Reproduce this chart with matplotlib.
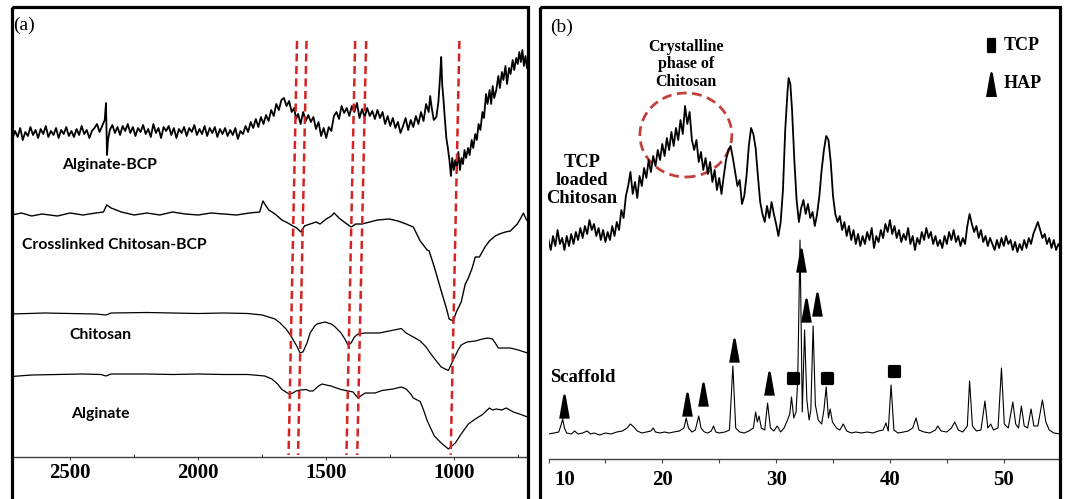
import numpy as np
import matplotlib
matplotlib.use("Agg")
import matplotlib.pyplot as plt
import matplotlib.transforms as mtransforms
from matplotlib.patches import Rectangle, Ellipse

W, H = 1066, 499

# ---------------- Panel (a): FTIR (wavenumber, offset reading) ----------------
alg_bcp_wn = [2725,2715,2705,2695,2685,2675,2665,2655,2645,2635,2625,2615,2605,2595,2585,2575,2565,2555,2545,2535,2525,
              2515,2505,2495,2485,2475,2465,2455,2445,2435,2425,2415,2405,2395,2385,2375,2365,2360,2356,2352,2345,2335,
              2325,2315,2305,2295,2285,2275,2265,2255,2245,2235,2225,2215,2205,2195,2185,2175,2165,2155,2145,2135,2125,
              2115,2105,2095,2085,2075,2065,2055,2045,2035,2025,2015,2005,1995,1985,1975,1965,1955,1945,1935,1925,1915,
              1905,1895,1885,1875,1865,1855,1845,1835,1825,1815,1805,1795,1785,1775,1765,1755,1745,1735,1725,1715,1705,
              1695,1685,1675,1665,1655,1645,1635,1625,1618,1610,1600,1590,1580,1570,1560,1550,1540,1530,1520,1510,1500,
              1490,1480,1470,1460,1450,1440,1430,1420,1410,1400,1390,1380,1370,1360,1350,1340,1330,1320,1310,1300,1290,
              1280,1270,1260,1250,1240,1230,1220,1210,1200,1190,1180,1170,1160,1150,1140,1130,1120,1110,1100,1094,1088,
              1080,1070,1062,1055,1051,1047,1042,1037,1031,1025,1019,1013,1008,1002,996,990,984,978,972,966,960,954,946,
              940,932,926,918,912,905,898,890,884,876,870,862,856,850,844,836,828,822,814,808,800,794,786,780,772,766,
              758,752,746,740,734,728,722,716]
alg_bcp_v = [139,131,137,128,140,132,136,127,135,130,138,129,134,126,137,131,135,128,138,130,134,
             127,136,131,137,129,135,126,134,130,138,131,128,124,132,126,120,103,155,140,130,125,
             133,127,135,126,131,124,133,127,136,128,132,125,134,129,137,124,133,128,138,127,131,
             126,135,128,138,129,133,127,136,128,132,125,135,129,134,126,136,128,133,127,137,129,
             134,128,136,130,135,128,139,131,134,126,132,122,128,119,127,117,124,115,121,110,116,
             104,110,100,98,106,101,112,108,119,114,124,112,121,115,122,117,129,122,136,128,138,
             127,131,116,112,119,106,113,108,116,106,112,103,118,109,117,108,116,111,119,110,118,
             112,124,116,126,118,128,122,133,126,118,130,120,127,116,124,112,121,104,112,96,108,
             120,117,102,75,57,85,100,118,138,148,160,176,158,170,160,168,152,170,158,164,150,158,148,
             155,140,148,134,140,124,130,112,118,94,104,90,104,86,98,90,76,88,72,80,66,84,68,74,60,70,
             58,64,52,62,50,66,56,68]

cs_bcp_wn = [2729,2690,2650,2610,2550,2500,2450,2400,2370,2357,2340,2320,2300,2250,2200,2150,2100,2050,2000,1950,1900,1850,
             1800,1760,1747,1735,1724,1700,1673,1650,1630,1615,1599,1585,1563,1540,1524,1500,1480,1469,1450,1430,1403,1385,
             1360,1330,1300,1254,1220,1188,1160,1133,1106,1098,1078,1051,1031,1020,1004,992,973,957,945,930,918,902,880,863,
             840,824,800,781,754,740,730,718]
cs_bcp_v = [215,213,216,214,216,213,215,213,212,205,208,210,212,215,213,215,212,214,215,213,214,215,
            213,212,201,206,210,214,220,223,226,228,232,226,224,222,224,219,216,213,218,222,227,224,
            224,222,220,219,221,224,227,241,250,251,267,291,308,319,321,312,302,284,278,268,257,257,247,241,
            236,234,232,231,224,218,213,220]

chi_wn = [2729,2600,2500,2400,2360,2340,2200,2100,2000,1900,1806,1750,1700,1680,1657,1640,1630,1615,1602,1591,1575,1563,
          1545,1536,1505,1480,1469,1442,1425,1415,1403,1390,1376,1348,1293,1254,1207,1188,1160,1133,1110,1094,1070,1051,
          1023,1004,985,973,950,918,890,870,851,840,828,808,781,750,714]
chi_v = [314,313,313.5,314,315,313,312.5,313,313.5,313,313.5,315,319,323,329,335,339.5,346,353,352,343,333,
         326,324,322,324,326,333,340,345,343,337,334,333,333,331,328.5,333,337,341,347,353,361,367,
         370.5,360,350,345,342,341,339,338,339,343,348,348,348,350,353]

alg_wn = [2729,2650,2550,2450,2380,2360,2340,2200,2100,2000,1900,1806,1740,1712,1690,1673,1645,1630,1618,1600,1579,1565,
          1552,1530,1516,1500,1481,1460,1442,1415,1395,1387,1376,1360,1348,1309,1282,1239,1207,1188,1170,1160,1133,1120,
          1106,1078,1051,1023,996,973,945,918,890,863,850,836,815,797,769,740,714]
alg_v = [376.5,375,374.5,374,374.5,376,374,374,374.5,374,374.5,374.5,376,379,384,389.5,394,393,391,390,389.5,391,
         391,386,384,385,386,388,389.5,391,392,394.6,398,395,393,393,390.5,389,387,389,394,398,401.5,410,
         420.5,436,443,449,443,434,424,419,414.6,408,410,409,410,408,412,414.5,417]

band_top_wn = [1614, 1577, 1387, 1344, 980]
band_bot_wn = [1647, 1610, 1421, 1379, 1014]

a_ticks = [2500, 2000, 1500, 1000]
a_minor = [2250, 1750, 1250, 750]

# ---------------- Panel (b): XRD (2theta, offset reading) ----------------
tcp_chi_t = [10.0,10.2,10.4,10.6,10.8,11.0,11.2,11.4,11.6,11.8,12.0,12.2,12.4,12.6,12.8,13.0,13.2,13.4,13.6,13.8,14.0,14.2,
             14.4,14.6,14.8,15.0,15.2,15.4,15.6,15.8,16.0,16.2,16.4,16.6,16.8,17.0,17.2,17.4,17.6,17.8,18.0,18.2,18.4,18.6,
             18.8,19.0,19.2,19.4,19.6,19.8,20.0,20.2,20.4,20.6,20.8,21.0,21.2,21.4,21.6,21.8,22.0,22.2,22.4,22.6,22.8,23.0,
             23.2,23.4,23.6,23.8,24.0,24.2,24.4,24.6,24.8,25.0,25.2,25.4,25.6,25.8,26.0,26.2,26.4,26.6,26.8,27.0,27.2,27.4,
             27.6,27.8,28.0,28.2,28.4,28.6,28.8,29.0,29.2,29.4,29.6,29.8,30.0,30.2,30.4,30.6,30.8,31.0,31.1,31.25,31.4,31.6,
             31.8,32.0,32.2,32.4,32.6,32.8,33.0,33.2,33.4,33.6,33.8,34.0,34.2,34.4,34.6,34.8,35.0,35.2,35.4,35.6,35.8,36.0,
             36.2,36.4,36.6,36.8,37.0,37.2,37.4,37.6,37.8,38.0,38.2,38.4,38.6,38.8,39.0,39.2,39.4,39.6,39.8,40.0,40.2,40.4,
             40.6,40.8,41.0,41.2,41.4,41.6,41.8,42.0,42.2,42.4,42.6,42.8,43.0,43.2,43.4,43.6,43.8,44.0,44.2,44.4,44.6,44.8,
             45.0,45.2,45.4,45.6,45.8,46.0,46.2,46.4,46.6,46.8,47.0,47.2,47.4,47.6,47.8,48.0,48.2,48.4,48.6,48.8,49.0,49.2,
             49.4,49.6,49.8,50.0,50.2,50.4,50.6,50.8,51.0,51.2,51.4,51.6,51.8,52.0,52.2,52.4,52.6,52.8,53.0,53.2,53.4,53.6,
             53.8,54.0,54.2,54.4,54.6,54.8,55.0]
tcp_chi_v = [240,250,236,246,230,244,238,250,236,246,234,244,232,240,228,238,226,234,220,230,224,236,
             228,240,230,242,232,240,226,236,222,230,210,218,196,186,172,194,182,198,176,186,168,178,
             160,172,156,166,150,160,144,156,138,150,132,146,128,140,120,134,106,124,112,140,150,140,
             162,152,170,158,174,162,182,170,190,178,194,176,160,150,146,158,172,186,180,204,196,176,
             146,128,134,148,176,202,214,222,206,218,202,214,224,236,222,190,130,92,78,84,110,160,
             200,222,208,200,214,204,218,212,226,214,196,170,150,136,140,162,196,214,222,216,230,222,
             236,226,240,230,244,234,246,236,244,232,240,228,248,236,242,230,238,224,232,220,234,226,
             238,230,242,234,240,228,244,236,250,238,244,232,240,228,238,232,244,236,246,240,248,236,
             244,232,240,230,242,236,246,238,244,226,214,224,232,226,238,230,242,236,246,238,244,250,
             240,248,238,246,236,244,240,250,242,252,244,250,240,248,238,244,234,228,222,230,238,234,
             244,238,248,240,250,244,248]

scaf_t = [10.0,10.5,10.9,11.1,11.25,11.4,11.6,12.0,12.3,12.6,13.0,13.4,13.7,14.0,14.5,15.0,15.5,16.0,16.5,16.9,17.2,17.5,
          17.8,18.2,18.6,19.0,19.2,19.4,19.8,20.2,20.6,21.0,21.5,21.9,22.1,22.3,22.6,22.9,23.2,23.4,23.7,24.0,24.3,24.5,
          24.7,25.0,25.5,25.9,26.2,26.45,26.8,27.2,27.6,28.0,28.2,28.35,28.5,28.7,29.0,29.25,29.5,29.8,30.1,30.4,30.7,31.0,
          31.2,31.35,31.55,31.75,31.9,32.1,32.3,32.5,32.7,32.9,33.05,33.25,33.45,33.7,34.0,34.2,34.4,34.6,34.75,34.95,35.3,
          35.6,35.9,36.2,36.6,37.0,37.5,38.0,38.5,39.0,39.4,39.65,39.85,40.1,40.35,40.7,41.2,41.6,42.0,42.3,42.55,43.0,43.5,
          44.0,44.2,44.5,45.0,45.4,45.7,46.0,46.4,46.8,47.0,47.25,47.6,48.0,48.35,48.6,48.85,49.1,49.5,49.8,50.05,50.4,50.8,
          51.05,51.3,51.55,51.8,52.1,52.4,52.65,53.0,53.4,53.7,54.0,54.4,55.0]
scaf_v = [434,433,432,425,419,428,433,434,431,434,433,431,434,433,435,433,434,432,431,428,424,427,
          431,433,432,431,428,432,433,432,433,432,431,428,418,428,432,430,416,428,432,433,431,426,
          432,433,432,430,366,428,432,433,431,428,412,422,416,428,430,403,428,431,426,432,428,420,
          414,397,418,412,380,240,412,330,400,420,410,326,405,420,424,410,387,418,409,422,428,
          430,424,431,433,432,433,432,433,431,430,423,431,385,430,433,432,431,428,418,430,432,433,
          430,426,431,432,428,422,430,432,426,381,426,431,430,401,428,424,430,428,368,424,428,402,
          424,428,406,426,428,409,426,426,400,422,430,433,434]

hap_t = [11.4, 22.2, 23.6, 26.3, 29.4, 32.15, 32.6, 33.55]
hap_v = [406, 404, 394, 349.5, 383, 260, 310, 304]
tcp_t = [31.45, 34.45, 40.35]
tcp_v = [377.5, 377.5, 371]

b_ticks = [10, 20, 30, 40, 50]
b_minor = [15, 25, 35, 45]

# ---------------- figure ----------------
fig = plt.figure(figsize=(W / 100, H / 100), dpi=100)
fig.patch.set_facecolor("white")
px = mtransforms.Affine2D().scale(1 / W, -1 / H).translate(0, 1) + fig.transFigure

def fbox(l, t, r, b):
    return [l / W, 1 - b / H, (r - l) / W, (b - t) / H]

BASE_A, TOP_A = 457, 6
BASE_B, TOP_B = 459, 6

axa = fig.add_axes(fbox(12, TOP_A, 527, BASE_A))
axb = fig.add_axes(fbox(548.5, TOP_B, 1059.5, BASE_B))

for ax in (axa, axb):
    ax.set_facecolor("none")
    for s in ("left", "right", "top"):
        ax.spines[s].set_visible(False)
    ax.spines["bottom"].set_color("#404040")
    ax.spines["bottom"].set_linewidth(1.0)
    ax.set_yticks([])

serif = "Liberation Serif"
sans = "Lato"

# panel a curves
for wn, v, lw in ((alg_bcp_wn, alg_bcp_v, 1.3), (cs_bcp_wn, cs_bcp_v, 1.0),
                  (chi_wn, chi_v, 0.9), (alg_wn, alg_v, 0.9)):
    axa.plot(wn, BASE_A - np.array(v), color="black", lw=lw)
for t, b in zip(band_top_wn, band_bot_wn):
    axa.plot([t, b], [BASE_A - 41, BASE_A - 455], color="#d42424", lw=1.8,
             dashes=(3.2, 1.8))
axa.set_xlim(2727, 716)
axa.set_ylim(0, BASE_A - TOP_A)
axa.set_xticks(a_ticks)
axa.set_xticklabels([str(t) for t in a_ticks], fontfamily=serif, fontweight="bold", fontsize=15)
axa.set_xticks(a_minor, minor=True)
axa.tick_params(axis="x", which="major", length=2.5, width=0.8, color="#404040", pad=1.5, direction="out")
axa.tick_params(axis="x", which="minor", length=2.5, width=0.8, color="#404040", direction="in")

# panel b curves
axb.plot(tcp_chi_t, BASE_B - np.array(tcp_chi_v), color="black", lw=1.3)
axb.plot(scaf_t, BASE_B - np.array(scaf_v), color="black", lw=0.8)
axb.set_xlim(10, 54.9)
axb.set_ylim(0, BASE_B - TOP_B)
axb.set_xticks(b_ticks)
axb.set_xticklabels([str(t) for t in b_ticks], fontfamily=serif, fontweight="bold", fontsize=15)
axb.set_xticks(b_minor, minor=True)
axb.tick_params(axis="x", which="both", length=3, width=0.8, color="#404040", pad=5, direction="out")
lab10 = axb.get_xticklabels()[0]
lab10.set_transform(lab10.get_transform() + mtransforms.ScaledTranslation(0.16, 0, fig.dpi_scale_trans))

tri = [(-0.22, -0.5), (0.22, -0.5), (0.05, 0.46), (0, 0.5), (-0.05, 0.46)]
sq = [(-0.5, -0.42), (-0.42, -0.5), (0.42, -0.5), (0.5, -0.42), (0.5, 0.42), (0.42, 0.5), (-0.42, 0.5), (-0.5, 0.42)]
axb.plot(hap_t, BASE_B - np.array(hap_v), ls="none", marker=tri, markersize=17.5,
         color="black", markeredgewidth=0)
axb.plot(tcp_t, BASE_B - np.array(tcp_v), ls="none", marker=sq, markersize=9.5,
         color="black", markeredgewidth=0)

ell = Ellipse((22.07, BASE_B - 135), width=92 / 11.39, height=84, fill=False,
              edgecolor="#c0413c", lw=2.0, ls=(0, (3.5, 2.0)))
axb.add_patch(ell)

# legend markers (pixel coords)
leg_sq = [(-0.3, -0.44), (-0.26, -0.5), (0.26, -0.5), (0.3, -0.44), (0.3, 0.44), (0.26, 0.5), (-0.26, 0.5), (-0.3, 0.44)]
fig.add_artist(plt.Line2D([990.5], [45.5], transform=px, ls="none", marker=leg_sq, markersize=11,
                          color="black", markeredgewidth=0))
fig.add_artist(plt.Line2D([990.5], [84.5], transform=px, ls="none", marker=tri, markersize=18,
                          color="black", markeredgewidth=0))

# frames
for l, r in ((11.5, 527.5), (539.5, 1059.5)):
    fig.add_artist(Rectangle((l, 6.5), r - l, 520, transform=px, fill=False,
                             edgecolor="black", lw=2.3, clip_on=False))

# texts
def t(x, y, s, **kw):
    fig.text(x, y, s, transform=px, **kw)

t(13, 25, "(a)", fontfamily=serif, fontsize=14, va="center", ha="left")
t(550, 27, "(b)", fontfamily=serif, fontsize=14, va="center", ha="left")

t(62, 165, "Alginate-BCP", fontfamily=sans, fontweight="bold", fontsize=11.3, va="center", ha="left")
t(22, 245, "Crosslinked Chitosan-BCP", fontfamily=sans, fontweight="bold", fontsize=11.3, va="center", ha="left")
t(69, 335, "Chitosan", fontfamily=sans, fontweight="bold", fontsize=11.3, va="center", ha="left")
t(71, 414, "Alginate", fontfamily=sans, fontweight="bold", fontsize=11.3, va="center", ha="left")

t(686, 64.5, "Crystalline\nphase of\nChitosan", fontfamily=serif, fontweight="bold", fontsize=11.5,
  va="center", ha="center", multialignment="center", linespacing=1.15)
t(582, 180.5, "TCP\nloaded\nChitosan", fontfamily=serif, fontweight="bold", fontsize=13.3,
  va="center", ha="center", multialignment="center", linespacing=1.1)
t(550, 378, "Scaffold", fontfamily=serif, fontweight="bold", fontsize=13.5, va="center", ha="left")
t(1004, 46, "TCP", fontfamily=serif, fontweight="bold", fontsize=13, va="center", ha="left")
t(1004, 84, "HAP", fontfamily=serif, fontweight="bold", fontsize=13, va="center", ha="left")

fig.savefig("out.png", dpi=100)
